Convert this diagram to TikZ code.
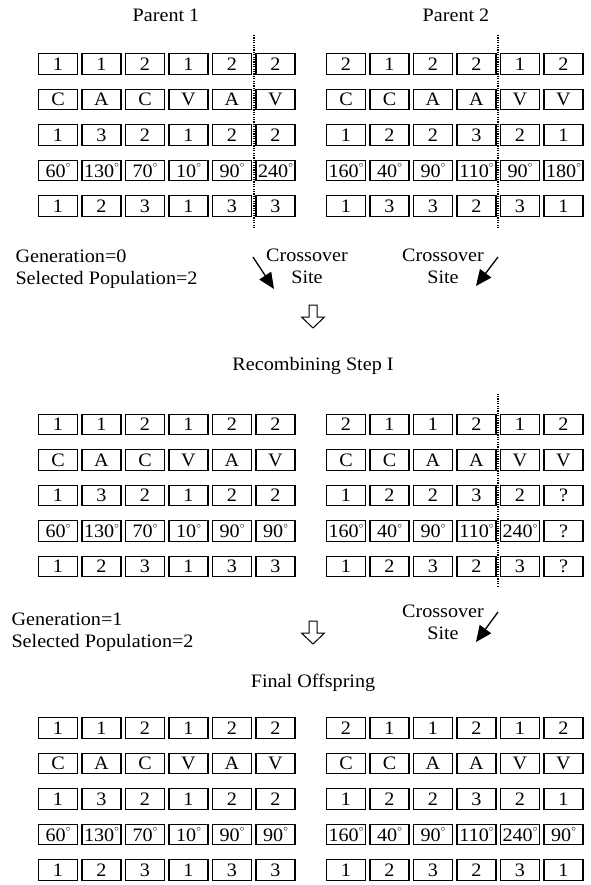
\documentclass[tikz,border=0pt]{standalone}
\usepackage{fontspec}
\setmainfont{Liberation Serif}[FakeStretch=1.06]
\usetikzlibrary{arrows.meta,calc}
\tikzstyle{gene} = [draw, rectangle, line width=1.4pt, minimum width=39pt, minimum height=20.5pt, inner sep=0pt, text centered]
\tikzstyle{note} = [anchor=west, align=left]
\tikzstyle{site} = [draw, line width=1.6pt, dash pattern=on 1.2pt off 1.2pt]
\tikzstyle{pointer} = [draw, line width=1.3pt, -{Triangle[length=16pt,width=14pt]}]
\tikzstyle{hollow} = [draw, line width=1pt, fill=white]
\newcommand{\dg}{\raisebox{1.1ex}{$\scriptscriptstyle\circ$}}
% one chromosome: name, left edge, first row, rows of genes
\newcommand{\chromosome}[4]{%
  \foreach \row [count=\r] in {#4} {
    \foreach \v [count=\c] in \row {
      \node[gene] (#1-\r-\c) at ({#2+20+43.5*(\c-1)}, {#3+35.5*(\r-1)}) {\v};
    }
  }
}

\begin{document}
\begin{tikzpicture}[x=1pt, y=-1pt, every node/.style={font=\fontsize{19}{22}\selectfont}]
    \useasboundingbox (0,0) rectangle (590,885);
    % parents
    \node (par1) at (166,15) {Parent 1};
    \node (par2) at (456,15) {Parent 2};
    \chromosome{pa}{38}{64}{{1,1,2,1,2,2},{C,A,C,V,A,V},{1,3,2,1,2,2},{60\dg,130\dg,70\dg,10\dg,90\dg,240\dg},{1,2,3,1,3,3}}
    \chromosome{pb}{326}{64}{{2,1,2,2,1,2},{C,C,A,A,V,V},{1,2,2,3,2,1},{160\dg,40\dg,90\dg,110\dg,90\dg,180\dg},{1,3,3,2,3,1}}
    \path[site] ($(pa-1-5.north east)!.5!(pa-1-6.north west) + (0,-18)$) -- ($(pa-5-5.south east)!.5!(pa-5-6.south west) + (0,12)$);
    \path[site] ($(pb-1-4.north east)!.5!(pb-1-5.north west) + (0,-18)$) -- ($(pb-5-4.south east)!.5!(pb-5-5.south west) + (0,12)$);
    \node[note] (gen0) at (12,269) {Generation=0\\Selected Population=2};
    \node[align=center] (cross1) at (307,266) {Crossover\\Site};
    \node[align=center] (cross2) at (443,266) {Crossover\\Site};
    \coordinate (c1s) at (253,257);
    \coordinate (c1e) at (274,289);
    \coordinate (c2s) at (498,257);
    \coordinate (c2e) at (476,286);
    \path[pointer] (c1s) -- (c1e);
    \path[pointer] (c2s) -- (c2e);
    \coordinate (down1) at (313,305);
    \draw[hollow] (down1) ++(-4,0) -- ++(0,12) -- ++(-7.5,0) -- ++(11.5,11) -- ++(11.5,-11) -- ++(-7.5,0) -- ++(0,-12) -- cycle;
    % recombining
    \node (rec) at (313,366) {Recombining Step I};
    \chromosome{ra}{38}{424.5}{{1,1,2,1,2,2},{C,A,C,V,A,V},{1,3,2,1,2,2},{60\dg,130\dg,70\dg,10\dg,90\dg,90\dg},{1,2,3,1,3,3}}
    \chromosome{rb}{326}{424.5}{{2,1,1,2,1,2},{C,C,A,A,V,V},{1,2,2,3,2,?},{160\dg,40\dg,90\dg,110\dg,240\dg,?},{1,2,3,2,3,?}}
    \path[site] ($(rb-1-4.north east)!.5!(rb-1-5.north west) + (0,-20)$) -- ($(rb-5-4.south east)!.5!(rb-5-5.south west) + (0,9)$);
    \node[note] (gen1) at (8,632) {Generation=1\\Selected Population=2};
    \node[align=center] (cross3) at (443,622) {Crossover\\Site};
    \coordinate (c3s) at (498,612);
    \coordinate (c3e) at (476,642);
    \path[pointer] (c3s) -- (c3e);
    \coordinate (down2) at (313,621);
    \draw[hollow] (down2) ++(-4,0) -- ++(0,12) -- ++(-7.5,0) -- ++(11.5,11) -- ++(11.5,-11) -- ++(-7.5,0) -- ++(0,-12) -- cycle;
    % offspring
    \node (off) at (313,683) {Final Offspring};
    \chromosome{fa}{38}{728}{{1,1,2,1,2,2},{C,A,C,V,A,V},{1,3,2,1,2,2},{60\dg,130\dg,70\dg,10\dg,90\dg,90\dg},{1,2,3,1,3,3}}
    \chromosome{fb}{326}{728}{{2,1,1,2,1,2},{C,C,A,A,V,V},{1,2,2,3,2,1},{160\dg,40\dg,90\dg,110\dg,240\dg,90\dg},{1,2,3,2,3,1}}
\end{tikzpicture}
\end{document}
